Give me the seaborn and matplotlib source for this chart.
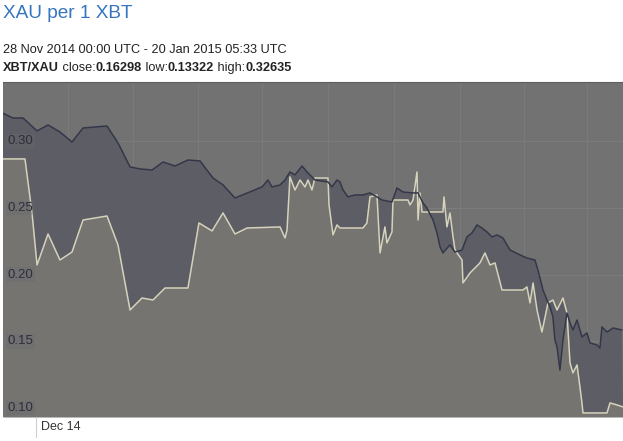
import numpy as np
import pandas as pd
import matplotlib
matplotlib.use("Agg")
import matplotlib.pyplot as plt
import seaborn as sns

sns.set_style("white")
plt.rcParams["font.family"] = ["Liberation Sans", "DejaVu Sans"]

# days since 28 Nov 2014 (x) and XAU per XBT (y)
dark_x = [0, 0.85, 1.71, 2.91, 3.85, 4.87, 5.90, 6.84, 8.89, 9.83, 10.86, 11.71,
          12.74, 13.68, 14.70, 15.81, 16.84, 17.95, 18.81, 19.83, 22.14, 22.65,
          22.99, 23.68, 24.11, 24.53, 24.96, 25.56, 25.99, 26.41, 26.67, 27.78,
          28.12, 28.55, 28.81, 29.07, 29.49, 30.09, 30.77, 31.37, 31.97, 32.40,
          33.25, 33.68, 34.19, 35.05, 35.48, 35.90, 36.24, 36.76, 37.10, 37.36,
          37.61, 38.20, 38.64, 39.24, 39.66, 40.09, 40.52, 40.94, 41.37, 41.80,
          42.23, 42.74, 43.34, 44.19, 44.79, 45.47, 45.73, 46.16, 46.50, 46.76,
          47.01, 47.18, 47.36, 47.61, 47.87, 48.21, 48.47, 48.72, 49.07, 49.49,
          49.92, 50.18, 50.78, 51.03, 51.20, 51.63, 52.15, 52.91]
dark_y = [0.321, 0.3175, 0.3175, 0.3078, 0.3123, 0.307, 0.2995, 0.310, 0.3115,
          0.2988, 0.2808, 0.2793, 0.2785, 0.2845, 0.2815, 0.286, 0.2853, 0.2725,
          0.2673, 0.2575, 0.2658, 0.271, 0.2658, 0.2673, 0.271, 0.277, 0.2748,
          0.2815, 0.277, 0.2733, 0.271, 0.2695, 0.2658, 0.271, 0.2695, 0.2635,
          0.2583, 0.2598, 0.2598, 0.2613, 0.2583, 0.256, 0.2545, 0.265, 0.262,
          0.2613, 0.2613, 0.2538, 0.25, 0.241, 0.2313, 0.2208, 0.2163, 0.2223,
          0.217, 0.2185, 0.2283, 0.2313, 0.2373, 0.235, 0.232, 0.2283, 0.2298,
          0.2275, 0.2185, 0.2148, 0.2125, 0.211, 0.2035, 0.1885, 0.181, 0.1758,
          0.1683, 0.151, 0.1458, 0.1285, 0.151, 0.1713, 0.1638, 0.1585, 0.166,
          0.1533, 0.1563, 0.1488, 0.1473, 0.145, 0.1608, 0.157, 0.16, 0.1585]

light_x = [0, 1.88, 2.48, 2.91, 3.85, 4.87, 5.90, 6.84, 8.89, 9.83, 10.86, 11.88,
           12.82, 13.85, 15.81, 16.75, 17.87, 18.81, 19.83, 20.86, 23.68, 24.11,
           24.28, 24.53, 24.96, 25.39, 25.82, 26.07, 26.41, 26.67, 27.78, 27.87,
           28.21, 28.55, 28.81, 30.77, 31.11, 31.37, 31.97, 32.23, 32.65, 32.82,
           33.25, 33.34, 34.62, 34.79, 35.05, 35.39, 35.48, 35.65, 35.82, 37.61,
           37.70, 37.95, 38.21, 38.47, 38.64, 39.24, 39.32, 39.92, 40.77, 41.20,
           41.63, 42.06, 42.66, 44.45, 44.79, 45.05, 45.31, 45.65, 46.07, 46.59,
           47.01, 47.36, 47.87, 48.21, 48.47, 48.72, 49.07, 49.32, 49.49, 49.58,
           51.63, 51.89, 52.49, 53.0]
light_y = [0.2868, 0.2868, 0.2463, 0.2073, 0.2305, 0.211, 0.217, 0.241, 0.244,
           0.2223, 0.1735, 0.1825, 0.181, 0.19, 0.19, 0.2388, 0.2328, 0.2463,
           0.2305, 0.235, 0.2358, 0.2275, 0.2335, 0.2733, 0.2635, 0.271, 0.2658,
           0.271, 0.2635, 0.2725, 0.2725, 0.2523, 0.2298, 0.2373, 0.235, 0.235,
           0.2388, 0.2583, 0.2598, 0.2163, 0.2358, 0.2238, 0.232, 0.256, 0.256,
           0.2523, 0.256, 0.277, 0.241, 0.2613, 0.247, 0.247, 0.2583, 0.2358,
           0.2463, 0.2283, 0.2185, 0.211, 0.1938, 0.2013, 0.2088, 0.2163, 0.2073,
           0.2088, 0.1885, 0.1885, 0.1908, 0.1788, 0.1938, 0.1735, 0.157, 0.1788,
           0.181, 0.1735, 0.1825, 0.1713, 0.1338, 0.1263, 0.1323, 0.1158, 0.1038,
           0.0963, 0.0963, 0.1038, 0.1023, 0.1008]

y_ticks = [0.10, 0.15, 0.20, 0.25, 0.30]
x_grid = [5.56, 11.1, 16.7, 22.1, 27.8, 33.4, 39.1, 44.5, 49.9]
x_tick = 2.82
x_tick_label = "Dec 14"

dark = pd.DataFrame({"day": dark_x, "rate": dark_y})
light = pd.DataFrame({"day": light_x, "rate": light_y})

fig = plt.figure(figsize=(6.23, 4.41), dpi=100)
ax = fig.add_axes([3 / 623, 24 / 441, 620 / 623, 335 / 441])
ax.set_facecolor("#727272")
ymin, ymax = 0.09325, 0.3445
ax.set_xlim(0, 53)
ax.set_ylim(ymin, ymax)

for v in y_ticks:
    ax.axhline(v, color="#7c7c7c", lw=0.8, zorder=0)
for d in x_grid:
    ax.axvline(d, color="#7a7a7a", lw=0.8, zorder=0)

ax.fill_between(light["day"], light["rate"], ymin, color="#757471", lw=0, zorder=1)
ax.fill(np.concatenate([dark["day"], light["day"][::-1]]),
        np.concatenate([dark["rate"], light["rate"][::-1]]),
        color="#5d5e65", lw=0, zorder=1)

sns.lineplot(data=light, x="day", y="rate", estimator=None, color="#d6d2bb",
             lw=1.1, ax=ax, zorder=3)
sns.lineplot(data=dark, x="day", y="rate", estimator=None, color="#343749",
             lw=1.1, ax=ax, zorder=4)

ax.set_xticks([])
ax.set_yticks([])
ax.set_xlabel("")
ax.set_ylabel("")
for s in ["left", "right", "bottom"]:
    ax.spines[s].set_visible(False)
ax.spines["top"].set_color("#5e5e5e")
ax.spines["top"].set_linewidth(0.8)

for v in y_ticks:
    ax.text(0.38, v, f"{v:.2f}", fontsize=9.5, color="#2c2e3c", va="center",
            ha="left", zorder=5,
            bbox=dict(boxstyle="square,pad=0.1", fc="#6a6a6e", ec="none", alpha=0.3))

# x tick below the plot
ax.plot([x_tick, x_tick], [0, -20 / 335], transform=ax.get_xaxis_transform(),
        color="#cfcfcf", lw=0.8, clip_on=False)
ax.plot([53, 53], [0, -20 / 335], transform=ax.get_xaxis_transform(),
        color="#cfcfcf", lw=0.8, clip_on=False)
ax.text(x_tick + 0.45, -10 / 335, x_tick_label, transform=ax.get_xaxis_transform(),
        fontsize=9, color="#333333", va="center", ha="left")

# header
fig.text(3 / 623, 1 - 13 / 441, "XAU per 1 XBT", fontsize=13.7, color="#3575bf",
         va="center", ha="left")
fig.text(3 / 623, 1 - 50 / 441, "28 Nov 2014 00:00 UTC - 20 Jan 2015 05:33 UTC",
         fontsize=9.2, color="#222222", va="center", ha="left")
parts = [("XBT/XAU", "bold"), (" close:", "normal"), ("0.16298", "bold"),
         (" low:", "normal"), ("0.13322", "bold"), (" high:", "normal"),
         ("0.32635", "bold")]
prev = fig.text(3 / 623, 1 - 68 / 441, parts[0][0], fontsize=9.2, fontweight="bold",
                color="#222222", va="center", ha="left")
for txt, w in parts[1:]:
    prev = ax.annotate(txt, xy=(1, 0), xycoords=prev, va="bottom", ha="left",
                       fontsize=9.2, fontweight=w, color="#222222",
                       annotation_clip=False)

fig.savefig("out.png", dpi=100)
